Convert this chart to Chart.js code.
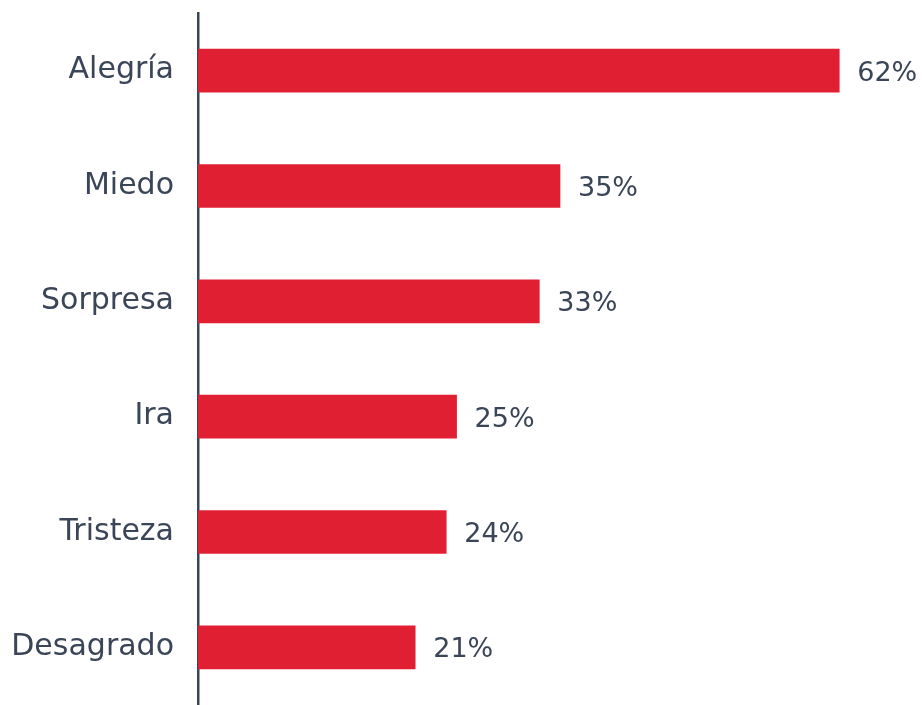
<!DOCTYPE html>
<html>
<head>
<meta charset="utf-8">
<script src="https://cdn.jsdelivr.net/npm/chart.js"></script>
<style>
    html, body { margin: 0; padding: 0; background: #fff; }
    #wrap { width: 922px; height: 705px; }
</style>
</head>
<body>
<div id="wrap"><canvas id="chart"></canvas></div>
<script>
    const emotions = ['Alegría', 'Miedo', 'Sorpresa', 'Ira', 'Tristeza', 'Desagrado'];
    const shares = [62, 35, 33, 25, 24, 21];

    const textColor = '#3a4558';
    const barColor = '#e01f32';
    const labelFont = { family: "'DejaVu Sans', sans-serif", size: 30 };

    // value labels to the right of each bar
    const valueLabels = {
        id: 'valueLabels',
        afterDatasetsDraw(chart) {
            const ctx = chart.ctx;
            const meta = chart.getDatasetMeta(0);
            ctx.save();
            ctx.font = '27px ' + labelFont.family;
            ctx.fillStyle = textColor;
            ctx.textAlign = 'left';
            ctx.textBaseline = 'middle';
            meta.data.forEach((bar, i) => {
                ctx.fillText(shares[i] + '%', bar.x + 18, bar.y + 3);
            });
            ctx.restore();
        }
    };

    new Chart(document.getElementById('chart'), {
        type: 'bar',
        data: {
            labels: emotions,
            datasets: [{
                data: shares,
                backgroundColor: barColor,
                barThickness: 43
            }]
        },
        options: {
            indexAxis: 'y',
            responsive: true,
            maintainAspectRatio: false,
            animation: false,
            layout: { padding: { top: 13, right: 0, bottom: 0, left: 0 } },
            plugins: { legend: { display: false }, tooltip: { enabled: false } },
            scales: {
                x: { display: false, min: 0, max: 70 },
                y: {
                    afterFit(scale) {
                        scale.width = 198;
                        scale.paddingTop = 0;
                        scale.paddingBottom = 0;
                    },
                    grid: { display: false, drawTicks: false },
                    border: { display: true, color: textColor, width: 2.5 },
                    ticks: { color: textColor, font: labelFont, padding: 24 }
                }
            }
        },
        plugins: [valueLabels]
    });
</script>
</body>
</html>
